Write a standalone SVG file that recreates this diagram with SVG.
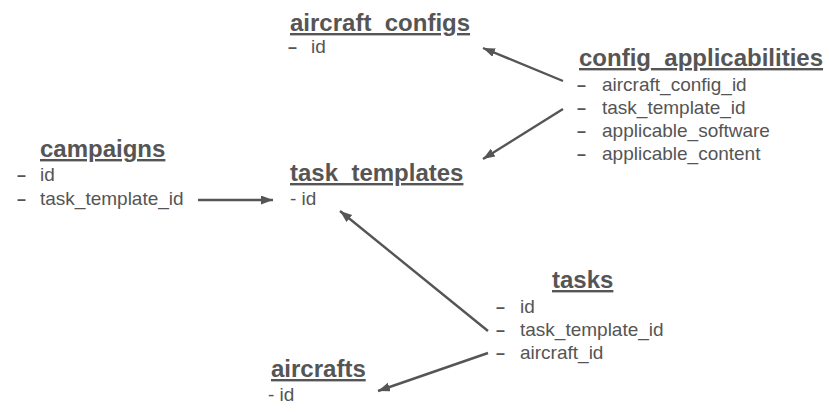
<svg xmlns="http://www.w3.org/2000/svg" width="829" height="412" viewBox="0 0 829 412">
<defs>
<style>
text{font-family:"Liberation Sans",Arial,sans-serif;fill:#555}
.t{font-size:24px;font-weight:bold;text-decoration:underline}
.b{font-size:19px}
.d{font-size:16px;font-weight:bold}
.c{stroke:#555;stroke-width:2.4;fill:none;marker-end:url(#ah)}
</style>
<marker id="ah" markerUnits="userSpaceOnUse" markerWidth="14" markerHeight="10" refX="12" refY="4.5" orient="auto">
<path d="M0,0 L12,4.5 L0,9 z" fill="#555"/>
</marker>
</defs>
<rect width="829" height="412" fill="#fff"/>
<g id="aircraft_configs">
<text class="t" x="290" y="31">aircraft_configs</text>
<text class="d" x="288" y="53">–</text><text class="b" x="311" y="53">id</text>
</g>
<g id="config_applicabilities">
<text class="t" x="579" y="66">config_applicabilities</text>
<text class="d" x="577" y="91">–</text><text class="b" x="602" y="91">aircraft_config_id</text>
<text class="d" x="577" y="114">–</text><text class="b" x="602" y="114">task_template_id</text>
<text class="d" x="577" y="137">–</text><text class="b" x="602" y="137">applicable_software</text>
<text class="d" x="577" y="160">–</text><text class="b" x="602" y="160">applicable_content</text>
</g>
<g id="campaigns">
<text class="t" x="40" y="157">campaigns</text>
<text class="d" x="17" y="181">–</text><text class="b" x="40" y="181">id</text>
<text class="d" x="17" y="205">–</text><text class="b" x="40" y="205">task_template_id</text>
</g>
<g id="task_templates">
<text class="t" x="290" y="181">task_templates</text>
<text class="b" x="290" y="205">- id</text>
</g>
<g id="tasks">
<text class="t" x="552" y="288">tasks</text>
<text class="d" x="496" y="313">–</text><text class="b" x="520" y="313">id</text>
<text class="d" x="496" y="336">–</text><text class="b" x="520" y="336">task_template_id</text>
<text class="d" x="496" y="359">–</text><text class="b" x="520" y="359">aircraft_id</text>
</g>
<g id="aircrafts">
<text class="t" x="271" y="377">aircrafts</text>
<text class="b" x="268" y="401">- id</text>
</g>
<g id="connectors">
<line class="c" x1="563" y1="81" x2="483" y2="48"/>
<line class="c" x1="563" y1="109" x2="483" y2="159"/>
<line class="c" x1="198" y1="200" x2="273" y2="200"/>
<line class="c" x1="488" y1="331" x2="340" y2="211"/>
<line class="c" x1="488" y1="353" x2="378" y2="391"/>
</g>
</svg>
